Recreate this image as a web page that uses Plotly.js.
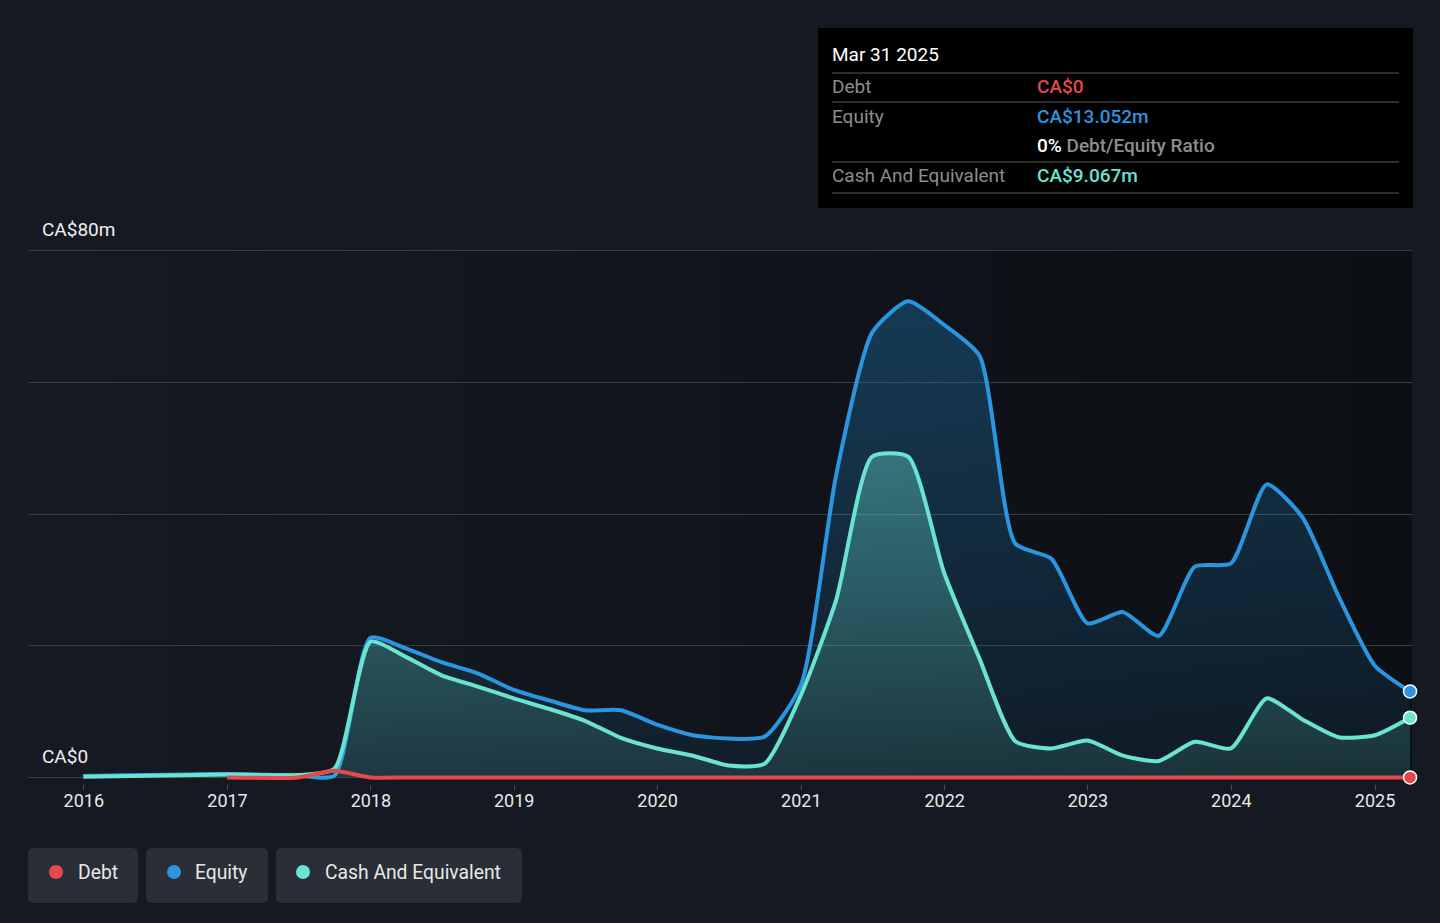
<!DOCTYPE html>
<html>
<head>
<meta charset="utf-8">
<script src="https://cdn.plot.ly/plotly-3.0.1.min.js"></script>
<style>
  html, body { margin:0; padding:0; background:#151a22; }
  #wrap { position:relative; width:1440px; height:923px; overflow:hidden; }
  #plotbg { position:absolute; left:28px; top:251px; width:1384px; height:526px;
            background:linear-gradient(to right, #161b23 0%, #11151c 45%, #0c0f13 100%); }
  #myDiv { position:absolute; left:0; top:0; width:1440px; height:923px; }
</style>
</head>
<body>
<div id="wrap">
  <div id="plotbg"></div>
  <div id="myDiv"></div>
</div>
<script>
// quarterly balance sheet points (CA$ millions)
var dates = ['2015-12-31','2016-12-31','2017-06-30','2017-09-30','2017-12-31',
  '2018-03-31','2018-06-30','2018-09-30','2018-12-31',
  '2019-03-31','2019-06-30','2019-09-30','2019-12-31',
  '2020-03-31','2020-06-30','2020-09-30','2020-12-31',
  '2021-03-31','2021-06-30','2021-09-30','2021-12-31',
  '2022-03-31','2022-06-30','2022-09-30','2022-12-31',
  '2023-03-31','2023-06-30','2023-09-30','2023-12-31',
  '2024-03-31','2024-06-30','2024-09-30','2024-12-31',
  '2025-03-31'];

var equity = [0.2, 0.5, 0.3, 0.25, 21.2,
  19.6, 17.5, 15.8, 13.3,
  11.7, 10.2, 10.2, 8.0,
  6.4, 5.9, 6.2, 14.0,
  46.0, 67.5, 72.3, 68.7,
  64.0, 35.5, 33.2, 23.4,
  25.1, 21.5, 32.0, 32.5,
  44.5, 39.5, 27.5, 17.0,
  13.052];

var cash = [0.1, 0.45, 0.35, 1.3, 20.6,
  18.3, 15.5, 13.8, 12.0,
  10.4, 8.6, 6.0, 4.4,
  3.3, 1.8, 2.1, 12.5,
  27.0, 48.7, 48.7, 31.0,
  18.0, 5.5, 4.4, 5.6,
  3.3, 2.5, 5.4, 4.4,
  12.0, 8.8, 6.1, 6.4,
  9.067];

var debtDates = dates.slice(1);
var debt = [0, 0, 1.0, 0,
  0, 0, 0, 0,
  0, 0, 0, 0,
  0, 0, 0, 0,
  0, 0, 0, 0,
  0, 0, 0, 0,
  0, 0, 0, 0,
  0, 0, 0, 0,
  0];

var yearTicks = ['2016-01-01','2017-01-01','2018-01-01','2019-01-01','2020-01-01',
  '2021-01-01','2022-01-01','2023-01-01','2024-01-01','2025-01-01'];
var yearLabels = ['2016','2017','2018','2019','2020','2021','2022','2023','2024','2025'];

var legendNames = ['Debt','Equity','Cash And Equivalent'];

var C_DEBT = '#e5484d';
var C_EQ = '#2b96e0';
var C_CASH = '#6ae4d1';
var FONT = 'Roboto, "Noto Sans", sans-serif';

// pixel -> paper helpers
var W = 1440, H = 923, ML = 28, MR = 28, MT = 244, MB = 139;
var PW = W - ML - MR, PH = H - MT - MB;
function px(x) { return (x - ML) / PW; }
function py(y) { return (H - MB - y) / PH; }

function roundRect(x0, y0, x1, y1, r) {
  var p = function(x, y) { return px(x) + ',' + py(y); };
  return 'M' + p(x0 + r, y0) + ' L' + p(x1 - r, y0) + ' Q' + p(x1, y0) + ' ' + p(x1, y0 + r) +
    ' L' + p(x1, y1 - r) + ' Q' + p(x1, y1) + ' ' + p(x1 - r, y1) +
    ' L' + p(x0 + r, y1) + ' Q' + p(x0, y1) + ' ' + p(x0, y1 - r) +
    ' L' + p(x0, y0 + r) + ' Q' + p(x0, y0) + ' ' + p(x0 + r, y0) + ' Z';
}

var traceEquity = {
  x: dates, y: equity, type: 'scatter', mode: 'lines', name: 'Equity',
  line: { color: C_EQ, width: 4, shape: 'spline', smoothing: 0.6 },
  fill: 'tozeroy',
  fillgradient: { type: 'vertical', colorscale: [[0, 'rgba(35,150,225,0.07)'], [1, 'rgba(35,150,225,0.30)']] },
  hoverinfo: 'skip', showlegend: false
};
var traceCash = {
  x: dates, y: cash, type: 'scatter', mode: 'lines', name: 'Cash And Equivalent',
  line: { color: C_CASH, width: 4, shape: 'spline', smoothing: 0.6 },
  fill: 'tozeroy',
  fillgradient: { type: 'vertical', colorscale: [[0, 'rgba(106,228,209,0.12)'], [1, 'rgba(106,228,209,0.38)']] },
  hoverinfo: 'skip', showlegend: false
};
var traceDebt = {
  x: debtDates, y: debt, type: 'scatter', mode: 'lines', name: 'Debt',
  line: { color: C_DEBT, width: 4, shape: 'spline', smoothing: 0.6 },
  hoverinfo: 'skip', showlegend: false
};

function endDot(xs, ys, color) {
  var n = xs.length - 1;
  return { x: [xs[n]], y: [ys[n]], type: 'scatter', mode: 'markers', cliponaxis: false,
    marker: { color: color, size: 13, line: { color: '#ffffff', width: 1.5 } },
    hoverinfo: 'skip', showlegend: false };
}

var data = [traceEquity, traceCash, traceDebt,
  endDot(dates, equity, C_EQ), endDot(dates, cash, C_CASH), endDot(debtDates, debt, C_DEBT)];

var shapes = [];
var annotations = [];

// tooltip panel
shapes.push({ type: 'rect', xref: 'paper', yref: 'paper', x0: px(818), x1: px(1413), y0: py(28), y1: py(208),
  fillcolor: '#000000', line: { width: 0 }, layer: 'above' });
[73, 102, 162, 193].forEach(function(yy) {
  shapes.push({ type: 'line', xref: 'paper', yref: 'paper', x0: px(832), x1: px(1399), y0: py(yy), y1: py(yy),
    line: { color: '#3c3c3c', width: 1.5 }, layer: 'above' });
});
function tipText(x, y, txt, color, weight) {
  annotations.push({ xref: 'paper', yref: 'paper', x: px(x), y: py(y), xanchor: 'left', yanchor: 'middle',
    text: txt, showarrow: false, borderpad: 0,
    font: { family: FONT, size: 19, color: color, weight: weight || 400 } });
}
tipText(831, 54, 'Mar 31 2025', '#ffffff');
tipText(831, 86, 'Debt', '#8d8d8d');
tipText(1036, 86, 'CA$0', C_DEBT, 500);
tipText(831, 116, 'Equity', '#8d8d8d');
tipText(1036, 116, 'CA$13.052m', C_EQ, 500);
tipText(1036, 146, '<span style="color:#ffffff">0%</span> Debt/Equity Ratio', '#8d8d8d', 500);
tipText(831, 176, 'Cash And Equivalent', '#8d8d8d');
tipText(1036, 176, 'CA$9.067m', C_CASH, 500);

// y labels
annotations.push({ xref: 'paper', yref: 'y', x: px(41), y: 80, yshift: 9, xanchor: 'left', yanchor: 'bottom',
  text: 'CA$80m', showarrow: false, borderpad: 0, font: { family: FONT, size: 19, color: '#eeeeee' } });
annotations.push({ xref: 'paper', yref: 'y', x: px(41), y: 0, yshift: 8, xanchor: 'left', yanchor: 'bottom',
  text: 'CA$0', showarrow: false, borderpad: 0, font: { family: FONT, size: 19, color: '#eeeeee' } });

// legend chips
var chips = [[28, 138, 56, 77], [146, 268, 174, 194], [276, 522, 303, 324]];
var chipColors = [C_DEBT, C_EQ, C_CASH];
chips.forEach(function(c, i) {
  shapes.push({ type: 'path', xref: 'paper', yref: 'paper', path: roundRect(c[0], 848, c[1], 903, 6),
    fillcolor: '#2a2e36', line: { width: 0 } });
  shapes.push({ type: 'circle', xref: 'paper', yref: 'paper', x0: px(c[2] - 7), x1: px(c[2] + 7),
    y0: py(879), y1: py(865), fillcolor: chipColors[i], line: { width: 0 } });
  annotations.push({ xref: 'paper', yref: 'paper', x: px(c[3]), y: py(872), xanchor: 'left', yanchor: 'middle',
    text: legendNames[i], showarrow: false, borderpad: 0,
    font: { family: FONT, size: 19.3, color: '#e8e8e8' } });
});

var layout = {
  width: W, height: H,
  margin: { l: ML, r: MR, t: MT, b: MB },
  paper_bgcolor: 'rgba(0,0,0,0)',
  plot_bgcolor: 'rgba(0,0,0,0)',
  font: { family: FONT, color: '#e8e8e8' },
  showlegend: false,
  xaxis: {
    type: 'date',
    range: ['2015-08-12', '2025-04-05'],
    tickvals: yearTicks, ticktext: yearLabels,
    ticks: 'outside', ticklen: 5, tickwidth: 1, tickcolor: '#4a4e55',
    ticklabelstandoff: -5,
    tickfont: { family: FONT, size: 18, color: '#e8e8e8' },
    showgrid: false, zeroline: false, showline: false,
    fixedrange: true
  },
  yaxis: {
    range: [-1, 81],
    tickvals: [0, 20, 40, 60, 80],
    showticklabels: false,
    showgrid: true, gridcolor: '#383c43', gridwidth: 1,
    zeroline: false, showline: false,
    fixedrange: true
  },
  shapes: shapes,
  annotations: annotations
};

var config = { displayModeBar: false, staticPlot: true };

Plotly.newPlot('myDiv', data, layout, config);
</script>
</body>
</html>
